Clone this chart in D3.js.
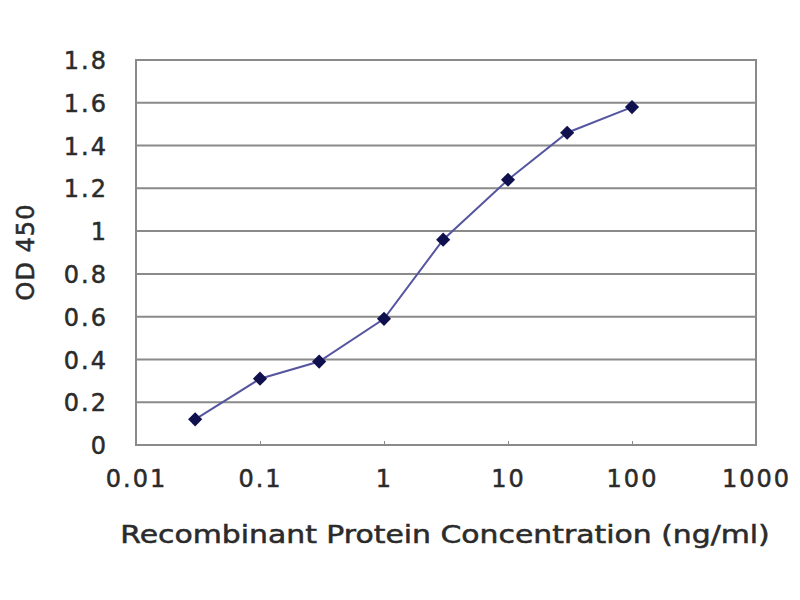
<!DOCTYPE html>
<html>
<head>
<meta charset="utf-8">
<script src="https://cdn.jsdelivr.net/npm/d3@7"></script>
<style>
  body { margin: 0; background: #fff; }
  svg text { font-family: "DejaVu Sans", Verdana, sans-serif; fill: #2b2b2b; stroke: #2b2b2b; stroke-width: 0.5px; }
</style>
</head>
<body>
<div id="chart"></div>
<script>
// Dose response data
const concentrations = [0.03, 0.1, 0.3, 1, 3, 10, 30, 100];
const odValues = [0.12, 0.31, 0.39, 0.59, 0.96, 1.24, 1.46, 1.58];
const xTicks = [0.01, 0.1, 1, 10, 100, 1000];
const yTicks = [0, 0.2, 0.4, 0.6, 0.8, 1, 1.2, 1.4, 1.6, 1.8];

const width = 800;
const height = 600;
const margin = { top: 60, right: 44, bottom: 155, left: 136 };
const plotW = width - margin.left - margin.right;
const plotH = height - margin.top - margin.bottom;

const svg = d3.select('#chart')
    .append('svg')
    .attr('width', width)
    .attr('height', height);

const g = svg.append('g')
    .attr('transform', `translate(${margin.left},${margin.top})`);

const x = d3.scaleLog().domain([0.01, 1000]).range([0, plotW]);
const y = d3.scaleLinear().domain([0, 1.8]).range([plotH, 0]);

// gridlines
g.append('g')
    .selectAll('line')
    .data(yTicks)
    .enter()
    .append('line')
    .attr('x1', 0)
    .attr('x2', plotW)
    .attr('y1', d => y(d))
    .attr('y2', d => y(d))
    .attr('stroke', '#8a8a8a')
    .attr('stroke-width', 2);

// plot frame
g.append('rect')
    .attr('width', plotW)
    .attr('height', plotH)
    .attr('fill', 'none')
    .attr('stroke', '#8a8a8a')
    .attr('stroke-width', 2);

// axes
const yAxis = g.append('g')
    .call(d3.axisLeft(y).tickValues(yTicks).tickSize(0).tickPadding(28).tickFormat(d3.format('~g')));
yAxis.select('.domain').remove();
yAxis.selectAll('text')
    .style('font-size', '24px')
    .style('letter-spacing', '2px')
    .attr('dy', '0.36em');

const xAxis = g.append('g')
    .attr('transform', `translate(0,${plotH})`)
    .call(d3.axisBottom(x).tickValues(xTicks).tickSize(-4).tickPadding(30).tickFormat(d3.format('~g')));
xAxis.select('.domain').remove();
xAxis.selectAll('line').attr('stroke', '#8a8a8a');
xAxis.selectAll('text')
    .style('font-size', '24px')
    .style('letter-spacing', '2px')
    .attr('dy', '0.5em');

// line
const line = d3.line()
    .x((d, i) => x(concentrations[i]))
    .y(d => y(d));

g.append('path')
    .datum(odValues)
    .attr('d', line)
    .attr('fill', 'none')
    .attr('stroke', '#5656a0')
    .attr('stroke-width', 2);

// markers
g.append('g')
    .selectAll('path')
    .data(odValues)
    .enter()
    .append('path')
    .attr('d', d3.symbol().type(d3.symbolSquare).size(100))
    .attr('transform', (d, i) => `translate(${x(concentrations[i])},${y(d)}) rotate(45)`)
    .attr('fill', '#10104f');

// axis titles - stretched horizontally to the reference's wide lettering
const title = svg.append('text')
    .attr('text-anchor', 'middle')
    .style('font-size', '24px')
    .text('Recombinant Protein Concentration (ng/ml)');
const natural = title.node().getComputedTextLength();
const sx = 650 / natural;
title.attr('transform', `translate(445,543) scale(${sx},1)`);

svg.append('text')
    .attr('transform', `translate(34,252) rotate(-90)`)
    .attr('text-anchor', 'middle')
    .style('font-size', '24px')
    .style('letter-spacing', '1px')
    .text('OD 450');
</script>
</body>
</html>
